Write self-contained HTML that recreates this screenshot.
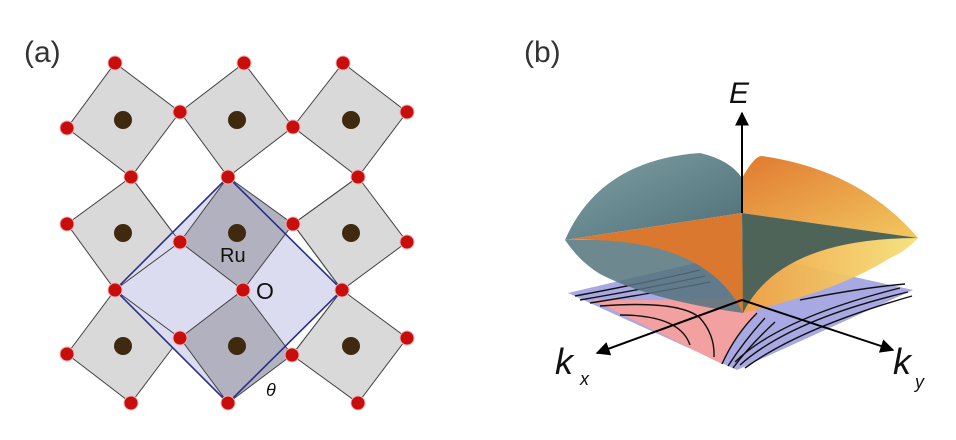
<!DOCTYPE html>
<html><head><meta charset="utf-8"><style>
html,body{margin:0;padding:0;background:#fff;}
svg{display:block;}
text{font-family:"Liberation Sans",sans-serif;}
</style></head><body>
<svg width="956" height="440" viewBox="0 0 956 440" xmlns="http://www.w3.org/2000/svg">
<defs>
<linearGradient id="teal" x1="0" y1="0" x2="1" y2="1"><stop offset="0" stop-color="#7fa0a4"/><stop offset="1" stop-color="#4f6f78"/></linearGradient>
<linearGradient id="org" x1="0" y1="0" x2="1" y2="1"><stop offset="0" stop-color="#e07a30"/><stop offset="1" stop-color="#f3c860"/></linearGradient>
<linearGradient id="yel" x1="0" y1="0" x2="1" y2="0"><stop offset="0" stop-color="#f0a040"/><stop offset="1" stop-color="#f5e07a"/></linearGradient>
<marker id="ah" viewBox="0 0 10 10" refX="9" refY="5" markerWidth="7" markerHeight="7" orient="auto"><path d="M0,0 L10,5 L0,10 Z" fill="#000"/></marker>
</defs>
<!-- Panel a -->
<text x="24" y="62" font-size="30" fill="#333">(a)</text>
<g stroke="#444" stroke-width="1" fill="#d9d9d9">
<polygon points="115,63 180,112 131,177 67,128"/>
<polygon points="244,63 293,127 228,177 180,112"/>
<polygon points="343,63 407,112 358,177 293,127"/>
<polygon points="131,177 180,242 115,290 67,224"/>
<polygon points="358,177 407,242 342,290 293,224"/>
<polygon points="115,290 180,338 131,403 67,354"/>
<polygon points="342,290 407,338 358,403 292,355"/>
</g>
<polygon points="228,177 342,290 228,403 115,290" fill="#dcdcf0" stroke="none"/>
<g stroke="#444" stroke-width="1" fill="#b2b1c0">
<polygon points="228,177 293,224 243,290 180,242"/>
<polygon points="243,290 292,355 228,403 180,338"/>
</g>
<g stroke="#444" stroke-width="1" fill="none">
<line x1="131" y1="177" x2="180" y2="242"/><line x1="115" y1="290" x2="180" y2="242"/>
<line x1="358" y1="177" x2="293" y2="224"/><line x1="342" y1="290" x2="293" y2="224"/>
<line x1="115" y1="290" x2="180" y2="338"/><line x1="342" y1="290" x2="292" y2="355"/>
</g>
<polygon points="228,177 342,290 228,403 115,290" fill="none" stroke="#2a2f8a" stroke-width="1.6"/>
<g fill="#3f2a10">
<circle cx="123" cy="120" r="9"/><circle cx="237" cy="120" r="9"/><circle cx="351" cy="120" r="9"/>
<circle cx="123" cy="233" r="9"/><circle cx="237" cy="233" r="9"/><circle cx="351" cy="233" r="9"/>
<circle cx="123" cy="346" r="9"/><circle cx="237" cy="346" r="9"/><circle cx="351" cy="346" r="9"/>
</g>
<g fill="#c80d0d" stroke="#f3b0b0" stroke-width="1">
<circle cx="115" cy="63" r="7"/><circle cx="244" cy="63" r="7"/><circle cx="343" cy="63" r="7"/>
<circle cx="67" cy="128" r="7"/><circle cx="180" cy="112" r="7"/><circle cx="293" cy="127" r="7"/><circle cx="407" cy="112" r="7"/>
<circle cx="131" cy="177" r="7"/><circle cx="228" cy="177" r="7"/><circle cx="358" cy="177" r="7"/>
<circle cx="67" cy="224" r="7"/><circle cx="180" cy="242" r="7"/><circle cx="293" cy="224" r="7"/><circle cx="407" cy="242" r="7"/>
<circle cx="115" cy="290" r="7"/><circle cx="243" cy="290" r="7"/><circle cx="342" cy="290" r="7"/>
<circle cx="67" cy="354" r="7"/><circle cx="180" cy="338" r="7"/><circle cx="292" cy="355" r="7"/><circle cx="407" cy="338" r="7"/>
<circle cx="131" cy="403" r="7"/><circle cx="228" cy="403" r="7"/><circle cx="358" cy="403" r="7"/>
</g>
<text x="220" y="262" font-size="20" fill="#111">Ru</text>
<text x="256" y="299" font-size="23" fill="#111">O</text>
<text x="266" y="396" font-size="18" font-style="italic" fill="#111">θ</text>
<!-- Panel b -->
<text x="524" y="62" font-size="30" fill="#333">(b)</text>
<!-- plane -->
<polygon points="568,293 742,252 913,290 737,370" fill="#a8a8e2"/>
<path d="M593,300 L660,300 L747,297 L757,313 Q735,335 722,364 Z" fill="#f2a0a0"/>
<g stroke="#111" stroke-width="1.4" fill="none">
<path d="M575,296 Q650,282 700,270"/><path d="M580,300 Q655,287 705,276"/><path d="M590,303 Q660,292 710,282"/>
<path d="M600,306 Q680,300 700,318 Q715,335 714,357"/><path d="M620,315 Q680,315 690,345"/>
<path d="M757,313 Q735,335 722,364"/><path d="M765,318 Q745,340 728,366"/><path d="M775,322 Q750,345 733,368"/>
<path d="M740,365 Q790,320 908,292"/><path d="M735,362 Q780,318 900,288"/><path d="M745,368 Q800,328 912,296"/>
<path d="M800,300 Q860,288 905,284"/>
</g>
<!-- lower lobes -->
<path d="M565,240 Q580,262 600,274 Q650,300 743,313 L742,240 Z" fill="#55737c" opacity="0.85"/>
<path d="M918,238 Q905,252 890,258 Q840,290 743,313 L742,240 Z" fill="url(#yel)" opacity="0.95"/>
<!-- upper lobes -->
<path d="M565,240 Q600,160 700,153 Q730,160 742,178 L742,213 Z" fill="url(#teal)"/>
<path d="M742,178 Q755,155 762,156 Q860,170 918,238 L742,213 Z" fill="url(#org)"/>
<!-- star -->
<path d="M742,213 L565,240 Q705,235 743,313 Z" fill="#d9782e"/>
<path d="M742,213 L918,238 Q780,238 743,313 Z" fill="#4f6458"/>
<line x1="742" y1="300" x2="597" y2="353" stroke="#000" stroke-width="2" marker-end="url(#ah)"/>
<line x1="742" y1="300" x2="893" y2="350" stroke="#000" stroke-width="2" marker-end="url(#ah)"/>
<line x1="742" y1="213" x2="742" y2="113" stroke="#000" stroke-width="2" marker-end="url(#ah)"/>
<text x="729" y="103" font-size="30" font-style="italic" fill="#111">E</text>
<text x="555" y="374" font-size="36" font-style="italic" fill="#111">k</text>
<text x="580" y="385" font-size="18" font-style="italic" fill="#111">x</text>
<text x="893" y="374" font-size="36" font-style="italic" fill="#111">k</text>
<text x="915" y="388" font-size="18" font-style="italic" fill="#111">y</text>
</svg>
</body></html>
